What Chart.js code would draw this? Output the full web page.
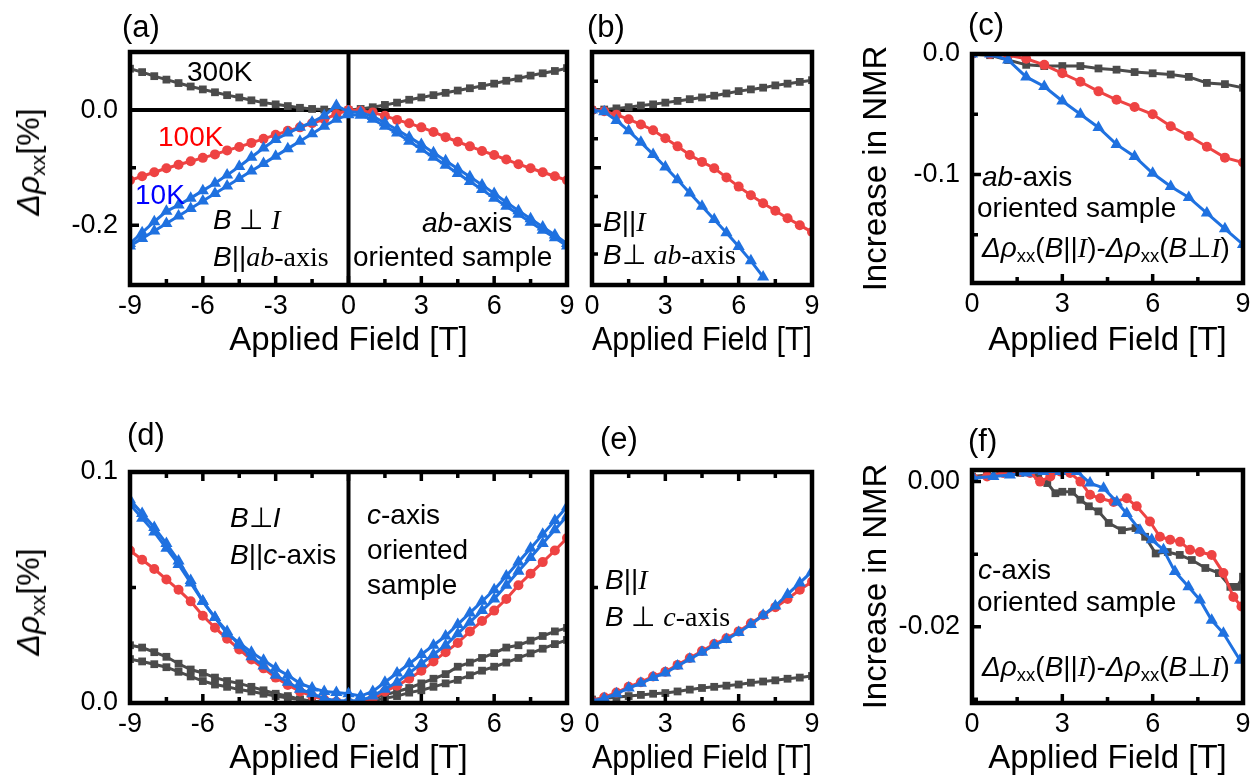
<!DOCTYPE html>
<html><head><meta charset="utf-8">
<script src="https://cdn.jsdelivr.net/npm/chart.js@4.4.1/dist/chart.umd.min.js"></script>
<style>
body{margin:0;width:1255px;height:779px;background:#fff;position:relative;overflow:hidden;font-family:"Liberation Sans",Arial,sans-serif;}
canvas{position:absolute;}
.t{position:absolute;white-space:nowrap;font-size:28px;line-height:1;color:#000;}
.p{position:absolute;white-space:nowrap;font-size:31px;line-height:1;color:#000;}
.yt{position:absolute;white-space:nowrap;font-size:32px;line-height:1;color:#000;transform:translate(-50%,-50%) rotate(-90deg);}
i{font-style:italic}
.s{font-family:"Liberation Serif","Times New Roman",serif}
sub{font-size:0.66em;vertical-align:-0.28em;line-height:0;font-style:normal}
</style></head>
<body>
<canvas id="ca" width="590" height="390" style="left:0;top:0"></canvas>
<canvas id="cb" width="250" height="390" style="left:585px;top:0"></canvas>
<canvas id="cc" width="405" height="390" style="left:850px;top:0"></canvas>
<canvas id="cd" width="590" height="379" style="left:0;top:400px"></canvas>
<canvas id="ce" width="250" height="379" style="left:585px;top:400px"></canvas>
<canvas id="cf" width="405" height="379" style="left:850px;top:400px"></canvas>

<div class="p" style="left:122px;top:11px">(a)</div>
<div class="p" style="left:587px;top:11px">(b)</div>
<div class="p" style="left:968px;top:9px">(c)</div>
<div class="p" style="left:127px;top:419px">(d)</div>
<div class="p" style="left:600px;top:423px">(e)</div>
<div class="p" style="left:968px;top:425px">(f)</div>

<div class="yt" style="left:28px;top:162px"><i>Δρ</i><sub>xx</sub>[%]</div>
<div class="yt" style="left:28px;top:602px"><i>Δρ</i><sub>xx</sub>[%]</div>

<div class="t" style="left:187px;top:58px">300K</div>
<div class="t" style="left:158px;top:123px;color:#ff0000">100K</div>
<div class="t" style="left:135px;top:181px;color:#0000ff">10K</div>
<div class="t" style="left:213px;top:206px"><i>B</i> ⊥ <i class="s">I</i></div>
<div class="t" style="left:213px;top:243px"><i>B</i>||<span class="s"><i>ab</i>-axis</span></div>
<div class="t" style="left:422px;top:209px"><i>ab</i>-axis</div>
<div class="t" style="left:353px;top:243px">oriented sample</div>

<div class="t" style="left:603px;top:208px"><i>B</i>||<i class="s">I</i></div>
<div class="t" style="left:603px;top:241px"><i>B</i>⊥ <span class="s"><i>ab</i>-axis</span></div>

<div class="t" style="left:982px;top:163px"><i>ab</i>-axis</div>
<div class="t" style="left:977px;top:194px">oriented sample</div>
<div class="t" style="left:982px;top:234px"><i>Δρ</i><sub>xx</sub>(<i>B</i>||<i class="s">I</i>)-<i>Δρ</i><sub>xx</sub>(<i>B</i>⊥<i class="s">I</i>)</div>

<div class="t" style="left:230px;top:504px"><i>B</i>⊥<i>I</i></div>
<div class="t" style="left:230px;top:541px"><i>B</i>||<i>c</i>-axis</div>
<div class="t" style="left:367px;top:501px"><i>c</i>-axis</div>
<div class="t" style="left:367px;top:536px">oriented</div>
<div class="t" style="left:367px;top:571px">sample</div>

<div class="t" style="left:605px;top:566px"><i>B</i>||<i class="s">I</i></div>
<div class="t" style="left:605px;top:603px"><i>B</i> ⊥ <span class="s"><i>c</i>-axis</span></div>

<div class="t" style="left:978px;top:556px"><i>c</i>-axis</div>
<div class="t" style="left:977px;top:588px">oriented sample</div>
<div class="t" style="left:982px;top:653px"><i>Δρ</i><sub>xx</sub>(<i>B</i>||<i class="s">I</i>)-<i>Δρ</i><sub>xx</sub>(<i>B</i>⊥<i class="s">I</i>)</div>

<script>
// ---------------- DATA ----------------
const fieldA = [-9,-8.5,-8,-7.5,-7,-6.5,-6,-5.5,-5,-4.5,-4,-3.5,-3,-2.5,-2,-1.5,-1,-0.5,0,0.5,1,1.5,2,2.5,3,3.5,4,4.5,5,5.5,6,6.5,7,7.5,8,8.5,9];
const a300K = [0.072,0.066,0.059,0.053,0.047,0.041,0.036,0.031,0.026,0.022,0.017,0.013,0.010,0.007,0.004,0.002,0.001,0.000,0.000,0.002,0.005,0.009,0.013,0.018,0.022,0.026,0.030,0.034,0.038,0.042,0.046,0.051,0.055,0.060,0.064,0.068,0.073];
const a100K = [-0.122,-0.115,-0.108,-0.101,-0.095,-0.089,-0.083,-0.077,-0.070,-0.064,-0.057,-0.050,-0.043,-0.036,-0.030,-0.023,-0.016,-0.007,0.000,-0.001,-0.004,-0.010,-0.017,-0.023,-0.030,-0.038,-0.047,-0.055,-0.063,-0.071,-0.078,-0.086,-0.094,-0.101,-0.108,-0.115,-0.122];
const a10K_up = [-0.232,-0.213,-0.194,-0.176,-0.165,-0.153,-0.140,-0.127,-0.113,-0.098,-0.082,-0.066,-0.051,-0.040,-0.030,-0.021,-0.010,0.008,-0.003,-0.004,-0.011,-0.022,-0.034,-0.047,-0.060,-0.074,-0.088,-0.102,-0.116,-0.130,-0.145,-0.160,-0.175,-0.189,-0.203,-0.217,-0.232];
const a10K_down = [-0.236,-0.223,-0.210,-0.197,-0.184,-0.171,-0.158,-0.145,-0.132,-0.119,-0.106,-0.093,-0.080,-0.067,-0.054,-0.041,-0.028,-0.016,-0.008,-0.009,-0.016,-0.028,-0.040,-0.054,-0.068,-0.082,-0.096,-0.110,-0.124,-0.138,-0.153,-0.167,-0.181,-0.195,-0.209,-0.222,-0.236];

const fieldB = [0,0.5,1,1.5,2,2.5,3,3.5,4,4.5,5,5.5,6,6.5,7,7.5,8,8.5,9];
const b300K = [0.000,0.001,0.003,0.005,0.008,0.010,0.013,0.016,0.019,0.022,0.025,0.029,0.033,0.036,0.039,0.043,0.046,0.049,0.052];
const b100K = [0.000,-0.002,-0.008,-0.016,-0.025,-0.035,-0.049,-0.063,-0.078,-0.090,-0.101,-0.117,-0.133,-0.148,-0.162,-0.175,-0.188,-0.200,-0.212];
const b10K = [0.000,-0.003,-0.018,-0.036,-0.056,-0.077,-0.099,-0.121,-0.144,-0.167,-0.190,-0.213,-0.237,-0.262,-0.290];

const fieldC = [0,0.6,1.2,1.8,2.4,3,3.6,4.2,4.8,5.4,6,6.6,7.2,7.8,8.4,9];
const c300K = [0,-0.001,-0.005,-0.009,-0.010,-0.010,-0.010,-0.012,-0.013,-0.015,-0.016,-0.017,-0.019,-0.024,-0.025,-0.028];
const c100K = [0,0,-0.001,-0.004,-0.009,-0.016,-0.023,-0.031,-0.038,-0.044,-0.050,-0.060,-0.068,-0.077,-0.086,-0.090];
const c10K = [0,0,-0.005,-0.019,-0.027,-0.039,-0.050,-0.061,-0.075,-0.085,-0.099,-0.110,-0.119,-0.132,-0.145,-0.158];

const fieldD = fieldA;
const d300K_up = [0.025,0.024,0.022,0.020,0.017,0.0145,0.013,0.011,0.0095,0.0085,0.007,0.0055,0.004,0.003,0.0015,0.0008,0.0004,0.0002,0.0002,0.001,0.002,0.0035,0.005,0.0065,0.0085,0.0105,0.0125,0.0157,0.0175,0.0195,0.0216,0.024,0.025,0.027,0.029,0.031,0.0325];
const d300K_down = [0.019,0.018,0.0168,0.0155,0.0135,0.0115,0.0095,0.008,0.007,0.0058,0.005,0.004,0.003,0.0022,0.0015,0.0008,0.0003,0,0,0.0005,0.001,0.002,0.003,0.0045,0.0055,0.007,0.0085,0.010,0.012,0.014,0.0157,0.0175,0.0195,0.0215,0.0235,0.0255,0.0273];
const d100K = [0.066,0.062,0.058,0.0535,0.049,0.044,0.0378,0.0326,0.0278,0.0232,0.0188,0.015,0.011,0.0078,0.005,0.003,0.0015,0.0005,0,0.0005,0.002,0.005,0.0075,0.0105,0.014,0.018,0.022,0.026,0.031,0.0355,0.040,0.045,0.051,0.056,0.061,0.066,0.0714];
const d10K_up = [0.088,0.082,0.076,0.069,0.0615,0.053,0.044,0.037,0.030,0.026,0.022,0.0185,0.015,0.012,0.0085,0.0065,0.005,0.0045,0.004,0.003,0.005,0.009,0.013,0.017,0.021,0.025,0.029,0.034,0.039,0.044,0.049,0.055,0.061,0.067,0.073,0.079,0.085];
const d10K_down = [0.086,0.080,0.074,0.067,0.060,0.052,0.044,0.037,0.031,0.025,0.020,0.016,0.012,0.009,0.006,0.004,0.002,0.001,0.001,0.001,0.003,0.006,0.009,0.013,0.017,0.021,0.025,0.030,0.035,0.040,0.045,0.051,0.057,0.063,0.069,0.075,0.081];

const fieldE = fieldB;
const e300K = [0.0015,0.002,0.0025,0.003,0.0035,0.004,0.0043,0.005,0.0058,0.0065,0.007,0.0075,0.008,0.0088,0.0093,0.0098,0.0105,0.011,0.0117];
const e100K = [0.001,0.0025,0.0045,0.007,0.009,0.0115,0.0135,0.0165,0.0195,0.0225,0.0255,0.028,0.031,0.0345,0.038,0.0415,0.045,0.049,0.0525];
const e10K = [0.001,0.002,0.004,0.0065,0.0085,0.011,0.013,0.016,0.019,0.022,0.025,0.0275,0.0305,0.034,0.038,0.042,0.047,0.052,0.057];

const fField300 = [0,0.5,1.0,1.6,2.2,2.5,2.77,3.0,3.32,3.6,3.88,4.2,4.54,4.98,5.43,5.75,6.1,6.5,6.9,7.3,7.75,8.2,8.58,8.8,9.0];
const f300K = [0.0007,0.0009,0.0012,0.0012,0.0008,-0.0002,-0.0016,-0.0014,-0.0014,-0.0025,-0.0034,-0.0041,-0.0057,-0.0067,-0.0064,-0.0076,-0.0099,-0.0097,-0.0101,-0.0108,-0.0119,-0.0126,-0.0145,-0.0145,-0.0131];
const fField100 = [0.04,0.5,1.04,1.6,1.93,2.26,2.6,2.93,3.26,3.6,3.92,4.26,4.7,5.14,5.47,5.91,6.24,6.58,6.91,7.24,7.57,7.96,8.35,8.68,8.95];
const f100K = [0.0005,0.0007,0.0012,0.0014,0.0012,0.0000,0.0007,0.0014,0.0012,0.0000,-0.0018,-0.0023,-0.0028,-0.0023,-0.0034,-0.0055,-0.0076,-0.0080,-0.0083,-0.0094,-0.0097,-0.0101,-0.0126,-0.0159,-0.0172];
const fField10 = [0.04,0.71,1.26,1.82,2.37,2.93,3.48,3.92,4.37,4.81,5.14,5.58,5.97,6.36,6.74,7.19,7.57,7.96,8.35,8.9];
const f10K = [0.0005,0.0007,0.0009,0.0012,0.0014,0.0014,0.0014,-0.0002,-0.0009,-0.0028,-0.0044,-0.0067,-0.0080,-0.0094,-0.0124,-0.0145,-0.0163,-0.0191,-0.0209,-0.0246];

// tick labels
const xTicksFull = [-9,-6,-3,0,3,6,9];
const xLabelsFull = ['-9','-6','-3','0','3','6','9'];
const xMinorFull = [-7.5,-4.5,-1.5,1.5,4.5,7.5];
const xTicksHalf = [0,3,6,9];
const xLabelsHalf = ['0','3','6','9'];
const xMinorHalf = [1.5,4.5,7.5];
const aYTicks = [0,-0.2], aYLabels = ['0.0','-0.2'], aYMinor = [-0.1];
const bYMajor = [-0.1,-0.2], bYMinor = [0.05,-0.05,-0.15,-0.25];
const cYTicks = [0,-0.1], cYLabels = ['0.0','-0.1'], cYMinor = [-0.05,-0.15];
const dYTicks = [0,0.1], dYLabels = ['0.0','0.1'], dYMinor = [0.05];
const eYMinor = [0.05];
const fYTicks = [0,-0.02], fYLabels = ['0.00','-0.02'], fYMinor = [-0.01,-0.03];

// ---------------- RENDER ----------------
const FONT = '"Liberation Sans", Arial, sans-serif';
const GRAY = '#4b4b4b', RED = '#ee4343', BLUE = '#1f71e0';
const pts = (xs, ys) => ys.map((y, i) => ({x: xs[i], y}));
const sty = {
  gray: {borderColor: GRAY, backgroundColor: GRAY, pointStyle: 'rect', pointRadius: 5.5},
  red: {borderColor: RED, backgroundColor: RED, pointStyle: 'circle', pointRadius: 5},
  blue: {borderColor: BLUE, backgroundColor: BLUE, pointStyle: 'triangle', pointRadius: 7}
};
const ds = (kind, xs, ys) => Object.assign({data: pts(xs, ys), borderWidth: 3, pointBorderWidth: 0, tension: 0, showLine: true}, sty[kind]);

const framePlugin = {
  id: 'frame',
  beforeDatasetsDraw(chart, args, o) {
    const {ctx, chartArea: {left, right, top, bottom}, scales: {x, y}} = chart;
    ctx.save(); ctx.strokeStyle = '#000'; ctx.lineWidth = 4;
    ctx.beginPath();
    if (o.zeroY) { const py = y.getPixelForValue(0); ctx.moveTo(left, py); ctx.lineTo(right, py); }
    if (o.zeroX) { const px = x.getPixelForValue(0); ctx.moveTo(px, top); ctx.lineTo(px, bottom); }
    ctx.stroke(); ctx.restore();
  },
  afterDatasetsDraw(chart, args, o) {
    const {ctx, chartArea: {left, right, top, bottom}, scales: {x, y}} = chart;
    ctx.save(); ctx.strokeStyle = '#000'; ctx.lineWidth = 3.5;
    ctx.beginPath();
    const xt = (vals, len) => vals.forEach(v => {
      const px = x.getPixelForValue(v);
      ctx.moveTo(px, bottom); ctx.lineTo(px, bottom - len);
      if (o.top) { ctx.moveTo(px, top); ctx.lineTo(px, top + len); }
    });
    const yt = (vals, len) => vals.forEach(v => {
      const py = y.getPixelForValue(v);
      ctx.moveTo(left, py); ctx.lineTo(left + len, py);
    });
    xt(o.xMajor || [], 9); xt(o.xMinor || [], 6);
    yt(o.yMajor || [], 9); yt(o.yMinor || [], 6);
    ctx.stroke();
    ctx.lineWidth = 4.5;
    ctx.strokeRect(left, top, right - left, bottom - top);
    ctx.restore();
  }
};

function makeChart(id, p) {
  const c = document.getElementById(id);
  return new Chart(c, {
    type: 'line',
    data: {datasets: p.datasets},
    plugins: [framePlugin],
    options: {
      responsive: false, animation: false, devicePixelRatio: 1,
      layout: {padding: {left: 0, right: p.padR, top: p.padT, bottom: 0}},
      plugins: {legend: {display: false}, tooltip: {enabled: false}, frame: p.frame},
      scales: {
        x: {
          type: 'linear', min: p.xmin, max: p.xmax,
          afterBuildTicks: s => { s.ticks = p.xTicks.map(v => ({value: v})); },
          afterFit: s => { s.height = p.xH; s.paddingLeft = 0; s.paddingRight = 0; },
          grid: {display: false, drawTicks: false}, border: {display: false},
          ticks: {color: '#000', padding: 5, maxRotation: 0, autoSkip: false, font: {family: FONT, size: 27}, callback: (v, i) => p.xLabels[i]},
          title: {display: true, text: 'Applied Field [T]', color: '#000', font: {family: FONT, size: 33}, padding: {top: 0, bottom: p.titleB}}
        },
        y: {
          type: 'linear', min: p.ymin, max: p.ymax,
          afterBuildTicks: s => { s.ticks = (p.yTicks || []).map(v => ({value: v})); },
          afterFit: s => { s.width = p.yW; s.paddingTop = 0; s.paddingBottom = 0; },
          grid: {display: false, drawTicks: false}, border: {display: false},
          ticks: {display: !!p.yTicks, color: '#000', padding: 12, autoSkip: false, font: {family: FONT, size: 27}, callback: (v, i) => (p.yLabels || [])[i]},
          title: p.yTitle ? {display: true, text: p.yTitle, color: '#000', font: {family: FONT, size: 33}, padding: {top: 7, bottom: 0}} : {display: false}
        }
      }
    }
  });
}

makeChart('ca', {
  datasets: [ds('blue', fieldA, a10K_up), ds('blue', fieldA, a10K_down), ds('red', fieldA, a100K), ds('gray', fieldA, a300K)],
  xmin: -9, xmax: 9, ymin: -0.304, ymax: 0.101, padR: 23, padT: 52, yW: 130, xH: 105, titleB: 29,
  xTicks: xTicksFull, xLabels: xLabelsFull, yTicks: aYTicks, yLabels: aYLabels,
  frame: {zeroX: true, zeroY: true, xMajor: xTicksFull, xMinor: xMinorFull, yMajor: aYTicks, yMinor: aYMinor}
});
makeChart('cb', {
  datasets: [ds('blue', fieldB, b10K), ds('red', fieldB, b100K), ds('gray', fieldB, b300K)],
  xmin: 0, xmax: 9, ymin: -0.304, ymax: 0.101, padR: 23, padT: 52, yW: 7, xH: 105, titleB: 29,
  xTicks: xTicksHalf, xLabels: xLabelsHalf,
  frame: {zeroY: true, xMajor: xTicksHalf, xMinor: xMinorHalf, yMajor: bYMajor, yMinor: bYMinor}
});
makeChart('cc', {
  datasets: [ds('blue', fieldC, c10K), ds('red', fieldC, c100K), ds('gray', fieldC, c300K)],
  xmin: 0, xmax: 9, ymin: -0.19, ymax: 0, padR: 12, padT: 54, yW: 122, xH: 107, titleB: 29,
  xTicks: xTicksHalf, xLabels: xLabelsHalf, yTicks: cYTicks, yLabels: cYLabels, yTitle: 'Increase in NMR',
  frame: {xMajor: xTicksHalf, xMinor: xMinorHalf, yMajor: cYTicks, yMinor: cYMinor}
});
makeChart('cd', {
  datasets: [ds('blue', fieldD, d10K_up), ds('blue', fieldD, d10K_down), ds('red', fieldD, d100K), ds('gray', fieldD, d300K_up), ds('gray', fieldD, d300K_down)],
  xmin: -9, xmax: 9, ymin: 0, ymax: 0.1, padR: 23, padT: 72, yW: 130, xH: 76, titleB: 0,
  xTicks: xTicksFull, xLabels: xLabelsFull, yTicks: dYTicks, yLabels: dYLabels,
  frame: {zeroX: true, top: true, xMajor: xTicksFull, xMinor: xMinorFull, yMajor: dYTicks, yMinor: dYMinor}
});
makeChart('ce', {
  datasets: [ds('blue', fieldE, e10K), ds('red', fieldE, e100K), ds('gray', fieldE, e300K)],
  xmin: 0, xmax: 9, ymin: 0, ymax: 0.1, padR: 23, padT: 72, yW: 7, xH: 76, titleB: 0,
  xTicks: xTicksHalf, xLabels: xLabelsHalf,
  frame: {top: true, xMajor: xTicksHalf, xMinor: xMinorHalf, yMinor: eYMinor}
});
makeChart('cf', {
  datasets: [ds('blue', fField10, f10K), ds('red', fField100, f100K), ds('gray', fField300, f300K)],
  xmin: 0, xmax: 9, ymin: -0.0305, ymax: 0.0016, padR: 12, padT: 70, yW: 122, xH: 76, titleB: 0,
  xTicks: xTicksHalf, xLabels: xLabelsHalf, yTicks: fYTicks, yLabels: fYLabels, yTitle: 'Increase in NMR',
  frame: {top: true, xMajor: xTicksHalf, xMinor: xMinorHalf, yMajor: fYTicks, yMinor: fYMinor}
});
</script>
</body></html>
